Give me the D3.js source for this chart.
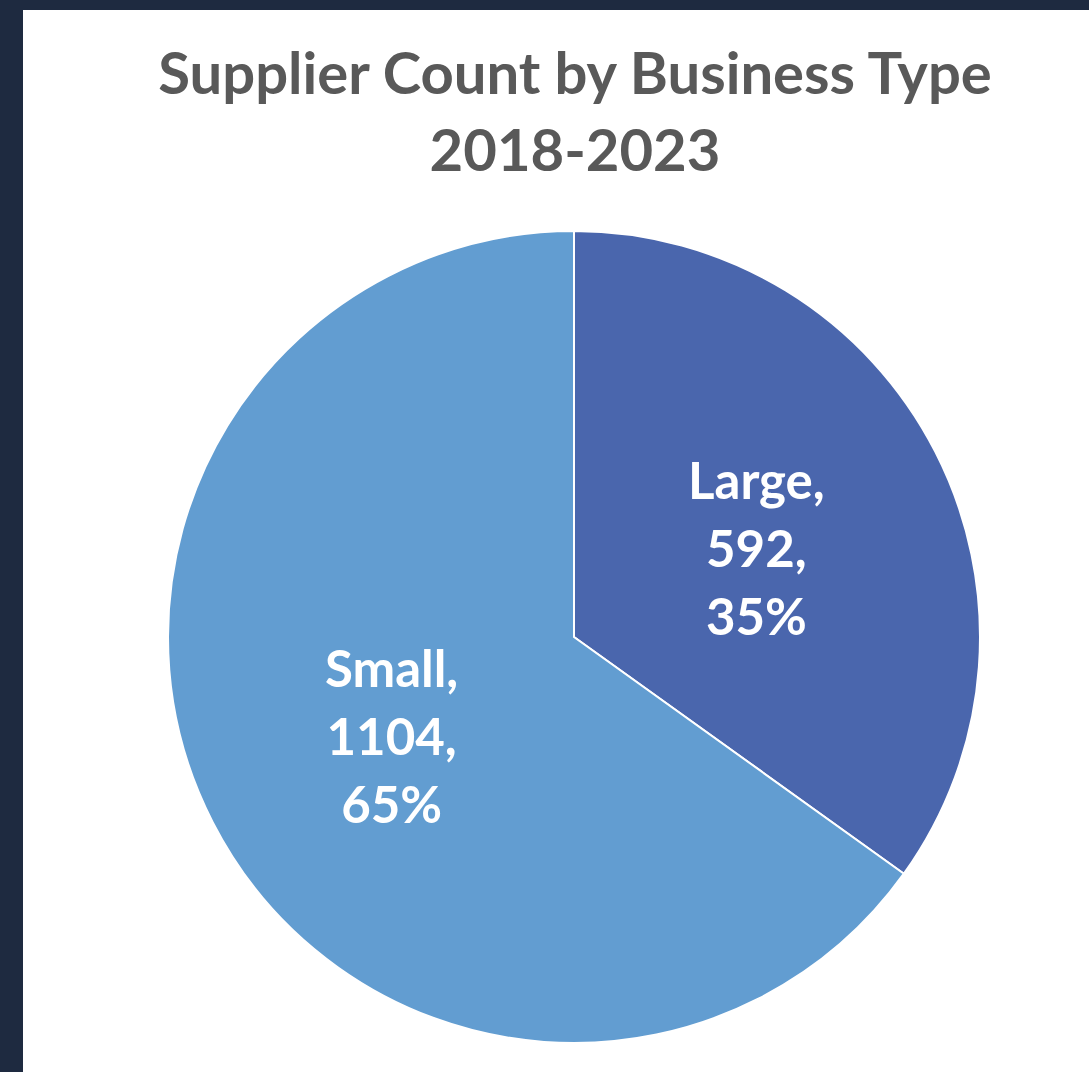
<!DOCTYPE html>
<html>
<head>
<meta charset="utf-8">
<script src="https://cdn.jsdelivr.net/npm/d3@7"></script>
<style>
  html, body { margin: 0; padding: 0; background: #1e2a40; }
  svg { display: block; }
</style>
</head>
<body>
<div id="chart"></div>
<script>
// pie data
var categories = ["Large", "Small"];
var counts = [592, 1104];
var percents = ["35%", "65%"];
var titleLines = ["Supplier Count by Business Type", "2018-2023"];

var width = 1089, height = 1072;
var cx = 574, cy = 637, radius = 406;

var svg = d3.select("#chart").append("svg")
        .attr("width", width)
        .attr("height", height);

// white chart area
svg.append("rect")
        .attr("x", 23).attr("y", 10)
        .attr("width", width - 23).attr("height", height - 10)
        .attr("fill", "#ffffff");

svg.selectAll("text.title")
        .data(titleLines)
        .enter().append("text")
        .attr("class", "title")
        .attr("x", 575)
        .attr("y", function(d, i) { return 94 + i * 77; })
        .attr("text-anchor", "middle")
        .style("font-family", "Lato, 'Open Sans', sans-serif")
        .style("font-weight", "bold")
        .style("font-size", "58px")
        .style("fill", "#595959")
        .text(function(d) { return d; });

var color = d3.scaleOrdinal()
        .domain(categories)
        .range(["#4a66ad", "#629dd1"]);

var pie = d3.pie()
        .sort(null)
        .value(function(d) { return d.count; });

var data = categories.map(function(c, i) {
        return { name: c, count: counts[i], pct: percents[i] };
        });

var arc = d3.arc().innerRadius(0).outerRadius(radius);
var labelArc = d3.arc().innerRadius(205).outerRadius(205);

var g = svg.append("g")
        .attr("transform", "translate(" + cx + "," + cy + ")");

g.selectAll("path")
        .data(pie(data))
        .enter().append("path")
        .attr("d", arc)
        .style("fill", function(d) { return color(d.data.name); })
        .style("stroke", "#ffffff")
        .style("stroke-width", 2);

var labels = g.selectAll("text.lbl")
        .data(pie(data))
        .enter().append("text")
        .attr("class", "lbl")
        .attr("transform", function(d) {
                var c = labelArc.centroid(d);
                return "translate(" + c[0] + "," + c[1] + ")";
                })
        .attr("text-anchor", "middle")
        .style("font-family", "Lato, 'Open Sans', sans-serif")
        .style("font-weight", "bold")
        .style("font-size", "51px")
        .style("fill", "#ffffff");

labels.each(function(d) {
        var t = d3.select(this);
        var lines = [d.data.name + ",", d.data.count + ",", d.data.pct];
        lines.forEach(function(s, i) {
                t.append("tspan")
                        .attr("x", 0)
                        .attr("y", (i - 1) * 68 + 24)
                        .text(s);
                });
        });
</script>
</body>
</html>
